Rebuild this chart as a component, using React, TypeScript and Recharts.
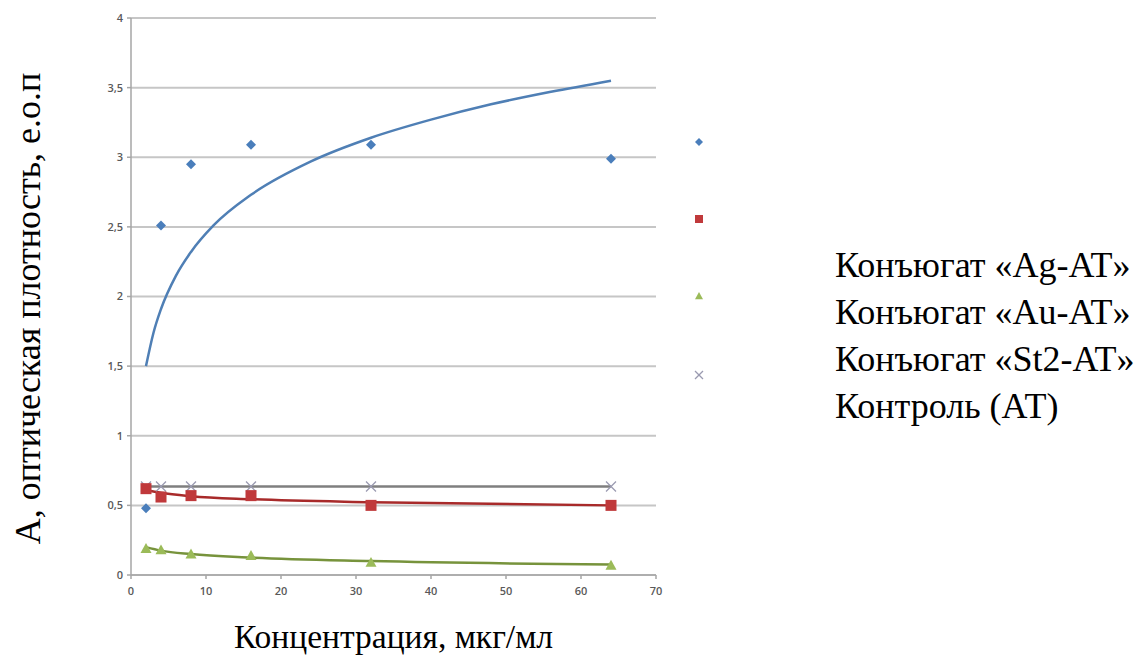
import React from 'react'
import { ComposedChart, Scatter, Line, XAxis, YAxis, CartesianGrid, Legend } from 'recharts'

// concentrations, мкг/мл
const concentrations = [2, 4, 8, 16, 32, 64]
// measured optical density
const agValues = [0.48, 2.51, 2.95, 3.09, 3.09, 2.99]
const auValues = [0.62, 0.56, 0.57, 0.57, 0.5, 0.5]
const st2Values = [0.19, 0.18, 0.15, 0.14, 0.09, 0.07]
const controlValues = [0.635, 0.635, 0.635, 0.635, 0.635, 0.635]

// trend lines
const agTrendX = [2, 3, 4, 6, 8, 11, 16, 24, 32, 40, 48, 56, 64]
const agTrendY = [1.5, 1.74, 1.91, 2.15, 2.32, 2.51, 2.73, 2.97, 3.14, 3.27, 3.38, 3.47, 3.55]
const auTrendY = [0.61, 0.59, 0.566, 0.544, 0.522, 0.5]
const st2TrendY = [0.2, 0.175, 0.15, 0.125, 0.1, 0.075]

const xTicks = [0, 10, 20, 30, 40, 50, 60, 70]
const yTicks = [0, 0.5, 1, 1.5, 2, 2.5, 3, 3.5, 4]

const seriesNames = ['Конъюгат «Ag-AT»', 'Конъюгат «Au-AT»', 'Конъюгат «St2-AT»', 'Контроль (АТ)']

const C = { ag: '#4a7ebb', agLine: '#4f7fb5', au: '#c0393b', auLine: '#a82a2a', st2: '#9bbb59', st2Line: '#77933c', ctl: '#9a9ab0', ctlLine: '#7f7f7f' }

const pts = (xs: number[], ys: number[]) => xs.map((x, i) => ({ x, y: ys[i] }))

const Diamond = ({ cx, cy, r = 5 }: any) => (
  <polygon points={`${cx},${cy - r} ${cx + r},${cy} ${cx},${cy + r} ${cx - r},${cy}`} fill={C.ag} />
)
const Square = ({ cx, cy, r = 5.5 }: any) => <rect x={cx - r} y={cy - r} width={2 * r} height={2 * r} fill={C.au} />
const Triangle = ({ cx, cy, r = 5.5 }: any) => (
  <polygon points={`${cx},${cy - r} ${cx + r},${cy + r * 0.8} ${cx - r},${cy + r * 0.8}`} fill={C.st2} />
)
const Cross = ({ cx, cy, r = 5 }: any) => (
  <g stroke={C.ctl} strokeWidth={1.3}>
    <line x1={cx - r} y1={cy - r} x2={cx + r} y2={cy + r} />
    <line x1={cx - r} y1={cy + r} x2={cx + r} y2={cy - r} />
  </g>
)

const serif = '"Liberation Serif", "Times New Roman", serif'

function LegendBox() {
  const markers = [Diamond, Square, Triangle, Cross]
  const markerY = [12, 89, 166, 245]
  return (
    <div style={{ position: 'relative', width: 0, height: 0, overflow: 'visible' }}>
      {markers.map((M, i) => (
        <svg key={i} width={12} height={12} style={{ position: 'absolute', left: 3, top: markerY[i] - 6 }}>
          <M cx={6} cy={6} r={4} />
        </svg>
      ))}
      {seriesNames.map((n, i) => (
        <div key={n} style={{ position: 'absolute', left: 145, top: 112 + i * 47, fontFamily: serif, fontSize: 36, color: '#000', whiteSpace: 'nowrap', lineHeight: '46px' }}>
          {n}
        </div>
      ))}
    </div>
  )
}

export default function App() {
  const tickStyle = { fontSize: 11, fill: '#595959', fontFamily: 'Open Sans, sans-serif', fontWeight: 600 }
  return (
    <div style={{ position: 'absolute', left: 0, top: 0, width: 1143, height: 659, background: '#fff' }}>
      <ComposedChart width={1143} height={659} margin={{ top: 18, right: 487, bottom: 0, left: 0 }}>
        <CartesianGrid vertical={false} stroke="#c6c6c6" strokeWidth={2} />
        <XAxis
          type="number"
          dataKey="x"
          domain={[0, 70]}
          ticks={xTicks}
          height={84}
          stroke="#a6a6a6"
          strokeWidth={1.5}
          tickSize={4}
          tickMargin={8}
          tick={tickStyle}
          label={{ value: 'Концентрация, мкг/мл', position: 'insideBottom', offset: 11, style: { fontFamily: serif, fontSize: 33.5, fill: '#000' } }}
        />
        <YAxis
          type="number"
          dataKey="y"
          domain={[0, 4]}
          ticks={yTicks}
          width={131}
          stroke="#a6a6a6"
          strokeWidth={1.5}
          tickSize={4}
          tickMargin={4}
          tick={tickStyle}
          tickFormatter={(v: number) => String(v).replace('.', ',')}
          label={{ value: 'А, оптическая плотность, е.о.п', angle: -90, position: 'insideLeft', offset: 27, dy: 12, style: { fontFamily: serif, fontSize: 36, fill: '#000', textAnchor: 'middle' } }}
        />
        <Line data={pts(concentrations, controlValues)} dataKey="y" stroke={C.ctlLine} strokeWidth={2.5} dot={false} isAnimationActive={false} />
        <Scatter data={pts(concentrations, controlValues)} shape={<Cross />} isAnimationActive={false} />
        <Line data={pts(agTrendX, agTrendY)} dataKey="y" type="monotone" stroke={C.agLine} strokeWidth={2.5} dot={false} isAnimationActive={false} />
        <Line data={pts(concentrations, auTrendY)} dataKey="y" type="monotone" stroke={C.auLine} strokeWidth={2.5} dot={false} isAnimationActive={false} />
        <Line data={pts(concentrations, st2TrendY)} dataKey="y" type="monotone" stroke={C.st2Line} strokeWidth={2.5} dot={false} isAnimationActive={false} />
        <Scatter data={pts(concentrations, agValues)} shape={<Diamond />} isAnimationActive={false} />
        <Scatter data={pts(concentrations, auValues)} shape={<Square />} isAnimationActive={false} />
        <Scatter data={pts(concentrations, st2Values)} shape={<Triangle />} isAnimationActive={false} />
        <Legend content={() => <LegendBox />} wrapperStyle={{ left: 690, top: 130, width: 0, height: 0 }} />
      </ComposedChart>
    </div>
  )
}
